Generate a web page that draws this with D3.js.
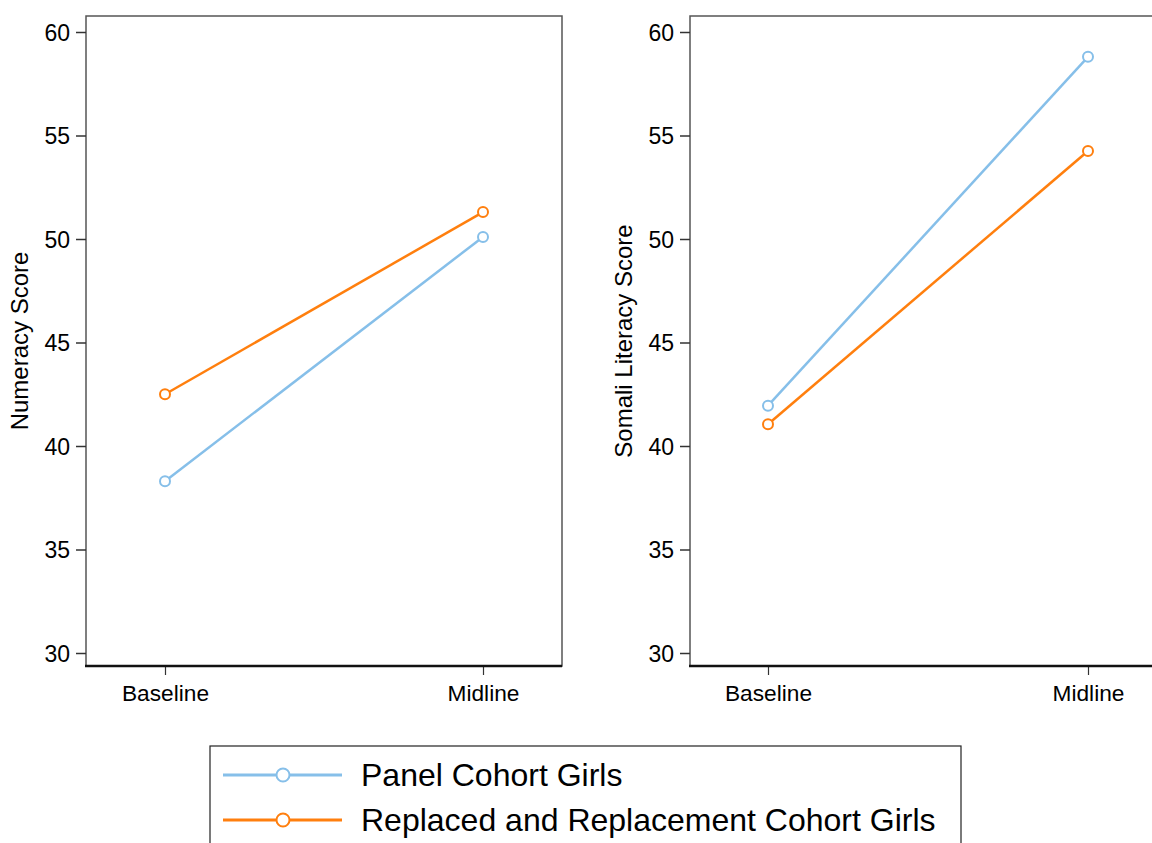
<!DOCTYPE html>
<html>
<head>
<meta charset="utf-8">
<script src="https://cdn.jsdelivr.net/npm/d3@7"></script>
<style>
  html, body { margin: 0; padding: 0; background: #fff; }
  svg { display: block; font-family: "Liberation Sans", Arial, sans-serif; }
</style>
</head>
<body>
<svg id="chart" width="1152" height="843"></svg>
<script>
// Survey rounds on the x axis
const rounds = ["Baseline", "Midline"];
// Cohort groups
const seriesNames = ["Panel Cohort Girls", "Replaced and Replacement Cohort Girls"];
const seriesColors = ["#86bfe9", "#ff7f0e"];
// Mean scores per round (Baseline, Midline)
const numeracyPanel = [38.3, 50.1];
const numeracyReplaced = [42.5, 51.3];
const literacyPanel = [41.95, 58.8];
const literacyReplaced = [41.05, 54.25];
const yTicks = [30, 35, 40, 45, 50, 55, 60];

const panels = [
  { title: "Numeracy Score", left: 86, right: 562, series: [numeracyPanel, numeracyReplaced], xRange: [165, 483] },
  { title: "Somali Literacy Score", left: 690, right: 1170, series: [literacyPanel, literacyReplaced], xRange: [768, 1088] }
];

const svg = d3.select("#chart");
const plotTop = 16, plotBottom = 666;
const fontFamily = "Liberation Sans, Arial, sans-serif";

// y: 60 sits at 32px, 55 at 135.5px
const y = d3.scaleLinear().domain([60, 30]).range([32, 653]);

panels.forEach(p => {
  const g = svg.append("g");
  const x = d3.scalePoint().domain(rounds).range(p.xRange);

  // plot frame
  g.append("rect")
    .attr("x", p.left).attr("y", plotTop)
    .attr("width", p.right - p.left).attr("height", plotBottom - plotTop)
    .attr("fill", "none").attr("stroke", "#555").attr("stroke-width", 1.5);

  // y axis
  const yAxis = d3.axisLeft(y).tickValues(yTicks).tickSize(10).tickPadding(6);
  const ya = g.append("g").attr("transform", `translate(${p.left},0)`).call(yAxis);
  ya.select(".domain").remove();
  ya.selectAll(".tick line").attr("stroke", "#333").attr("stroke-width", 1.5);
  ya.selectAll(".tick text").attr("font-size", 23).attr("fill", "#000")
    .attr("font-family", fontFamily).attr("dy", "0.36em");

  // x axis
  const xAxis = d3.axisBottom(x).tickSize(9).tickPadding(7);
  const xa = g.append("g").attr("transform", `translate(0,${plotBottom})`).call(xAxis);
  xa.select(".domain").remove();
  xa.selectAll(".tick line").attr("stroke", "#333").attr("stroke-width", 1.2);
  xa.selectAll(".tick text").attr("font-size", 22.7).attr("fill", "#000")
    .attr("font-family", fontFamily).attr("y", 35).attr("dy", 0);
  g.append("line")
    .attr("x1", p.left - 1).attr("x2", p.right)
    .attr("y1", plotBottom).attr("y2", plotBottom)
    .attr("stroke", "#111").attr("stroke-width", 2.5);

  // y axis title
  g.append("text")
    .attr("transform", `translate(${p.left - 58},${(plotTop + plotBottom) / 2}) rotate(-90)`)
    .attr("text-anchor", "middle").attr("font-size", 24).attr("fill", "#000")
    .text(p.title);

  // series lines and markers
  p.series.forEach((vals, i) => {
    const pts = rounds.map((r, j) => [x(r), y(vals[j])]);
    g.append("path")
      .attr("d", d3.line()(pts))
      .attr("fill", "none").attr("stroke", seriesColors[i]).attr("stroke-width", 2.5);
    g.selectAll(null).data(pts).enter().append("circle")
      .attr("cx", d => d[0]).attr("cy", d => d[1]).attr("r", 5)
      .attr("fill", "#fff").attr("stroke", seriesColors[i]).attr("stroke-width", 2);
  });
});

// legend
const lg = svg.append("g");
lg.append("rect").attr("x", 210).attr("y", 746).attr("width", 751).attr("height", 110)
  .attr("fill", "#fff").attr("stroke", "#222").attr("stroke-width", 1.2);
seriesNames.forEach((name, i) => {
  const ly = 775 + i * 45;
  lg.append("line").attr("x1", 223).attr("x2", 342).attr("y1", ly).attr("y2", ly)
    .attr("stroke", seriesColors[i]).attr("stroke-width", 3);
  lg.append("circle").attr("cx", 283).attr("cy", ly).attr("r", 6.5)
    .attr("fill", "#fff").attr("stroke", seriesColors[i]).attr("stroke-width", 2);
  lg.append("text").attr("x", 361).attr("y", ly + 11).attr("font-size", 32).attr("fill", "#000")
    .attr("font-family", fontFamily)
    .text(name);
});
</script>
</body>
</html>
